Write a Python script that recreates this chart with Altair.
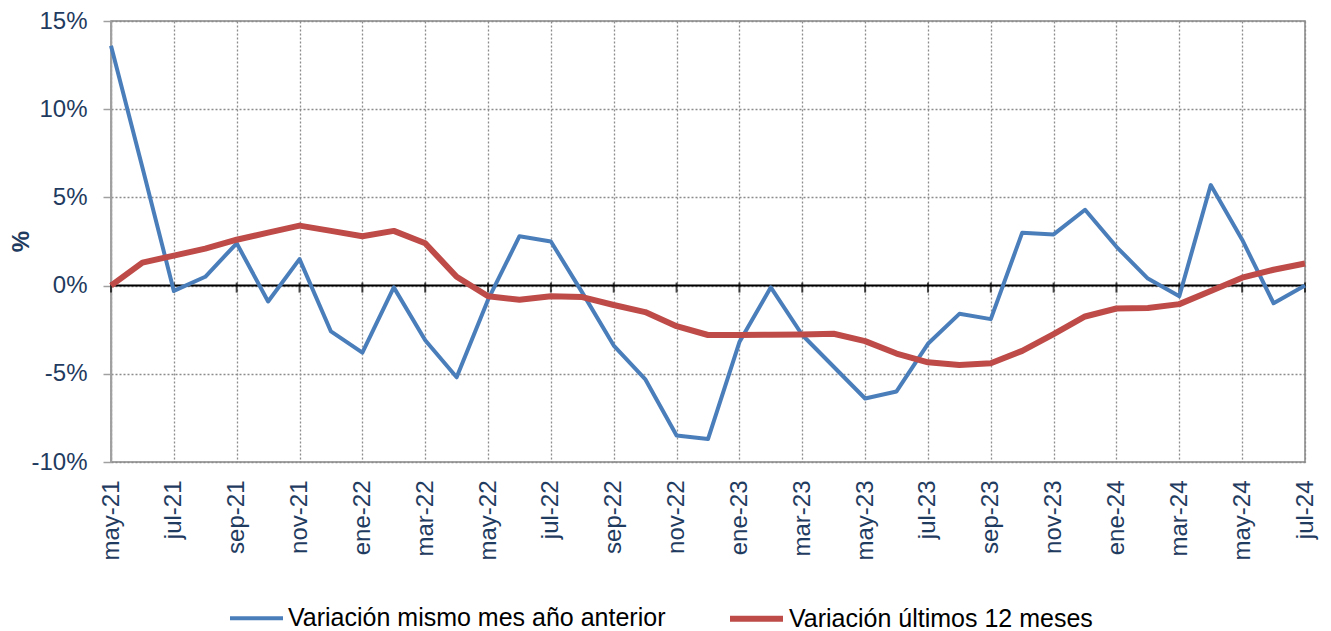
import altair as alt
import pandas as pd

months = ["may-21", "jun-21", "jul-21", "ago-21", "sep-21", "oct-21", "nov-21", "dic-21",
          "ene-22", "feb-22", "mar-22", "abr-22", "may-22", "jun-22", "jul-22", "ago-22",
          "sep-22", "oct-22", "nov-22", "dic-22", "ene-23", "feb-23", "mar-23", "abr-23",
          "may-23", "jun-23", "jul-23", "ago-23", "sep-23", "oct-23", "nov-23", "dic-23",
          "ene-24", "feb-24", "mar-24", "abr-24", "may-24", "jun-24", "jul-24"]

mismo_mes = [13.6, 6.7, -0.3, 0.5, 2.4, -0.9, 1.5, -2.6,
             -3.8, -0.1, -3.1, -5.2, -0.8, 2.8, 2.5, -0.4,
             -3.4, -5.3, -8.5, -8.7, -3.2, -0.1, -2.8, -4.6,
             -6.4, -6.0, -3.3, -1.6, -1.9, 3.0, 2.9, 4.3,
             2.2, 0.4, -0.6, 5.7, 2.6, -1.0, 0.0]

ultimos_12 = [0.0, 1.3, 1.7, 2.1, 2.6, 3.0, 3.4, 3.1,
              2.8, 3.1, 2.4, 0.5, -0.6, -0.8, -0.6, -0.65,
              -1.1, -1.5, -2.3, -2.8, -2.8, -2.78, -2.77, -2.73,
              -3.15, -3.85, -4.35, -4.5, -4.4, -3.7, -2.75, -1.75,
              -1.3, -1.27, -1.05, -0.3, 0.45, 0.9, 1.25]

series = ["Variación mismo mes año anterior", "Variación últimos 12 meses"]
y_ticks = [-10, -5, 0, 5, 10, 15]
x_ticks = months[::2]

BLUE = "#4A7EBB"
RED = "#BE4B48"
NAVY = "#1F3B60"
GRID = "#8C8C8C"
FONT = "Liberation Sans"

rows = []
for i, m in enumerate(months):
    rows.append({"mes": m, "valor": mismo_mes[i], "serie": series[0], "k": 0})
for i, m in enumerate(months):
    rows.append({"mes": m, "valor": ultimos_12[i], "serie": series[1], "k": 1})
df = pd.DataFrame(rows)

xscale = alt.Scale(type="point", padding=0, domain=months)
yscale = alt.Scale(domain=[-10, 15], nice=False, zero=False)

xaxis = alt.Axis(values=x_ticks, labelAngle=270, grid=True, gridDash=[2, 2],
                 gridColor=GRID, gridWidth=1.3, domain=False, ticks=False,
                 tickSize=0, labelPadding=18, labelFontSize=24,
                 labelColor=NAVY, labelFont=FONT, title=None)
yaxis = alt.Axis(values=y_ticks, labelExpr="datum.value + '%'", grid=True,
                 gridDash=[2, 2], gridColor=GRID, gridWidth=1.3,
                 domainColor="#A0A0A0", domainWidth=1.5, tickColor="#A0A0A0",
                 tickWidth=1.5, tickSize=8, labelPadding=16, labelFontSize=24,
                 labelColor=NAVY, labelFont=FONT, title="%",
                 titleFontWeight="bold", titleFontSize=24, titleColor=NAVY,
                 titleFont=FONT, titleAngle=270, titleX=-90, titleY=220,
                 titleAlign="center", titleBaseline="middle")

lines = alt.Chart(df).mark_line(strokeJoin="round", strokeCap="butt").encode(
    x=alt.X("mes:O", sort=months, scale=xscale, axis=xaxis),
    y=alt.Y("valor:Q", scale=yscale, axis=yaxis),
    color=alt.Color("serie:N", scale=alt.Scale(domain=series, range=[BLUE, RED]),
                    legend=alt.Legend(title=None, orient="none", legendX=117, legendY=568,
                                      direction="horizontal", symbolType="stroke",
                                      symbolSize=2809, symbolStrokeWidth=5,
                                      labelFontSize=25, labelFont=FONT, labelColor="black",
                                      columnPadding=52, labelOffset=3, padding=0,
                                      labelLimit=0)),
    strokeWidth=alt.StrokeWidth("serie:N", scale=alt.Scale(domain=series, range=[4, 6]),
                                legend=None),
    order=alt.Order("k:Q"),
)

zero = alt.Chart(pd.DataFrame({"valor": [0]})).mark_rule(color="black", strokeWidth=2).encode(
    y=alt.Y("valor:Q", scale=yscale, axis=yaxis)
)

ticks = alt.Chart(pd.DataFrame({"mes": x_ticks, "valor": [0] * len(x_ticks)})).mark_tick(
    color="black", thickness=2, size=10, yOffset=2, orient="vertical"
).encode(
    x=alt.X("mes:O", sort=months, scale=xscale, axis=xaxis),
    y=alt.Y("valor:Q", scale=yscale, axis=yaxis),
)

chart = alt.layer(zero, ticks, lines).properties(
    width=1194, height=441,
    autosize=alt.AutoSizeParams(type="none"),
    padding={"left": 103, "top": 13, "right": 18, "bottom": 169},
    background="white",
).configure_view(stroke="#868686", strokeWidth=1.5)

chart.save("out.html", embed_options={"renderer": "svg", "actions": False})
